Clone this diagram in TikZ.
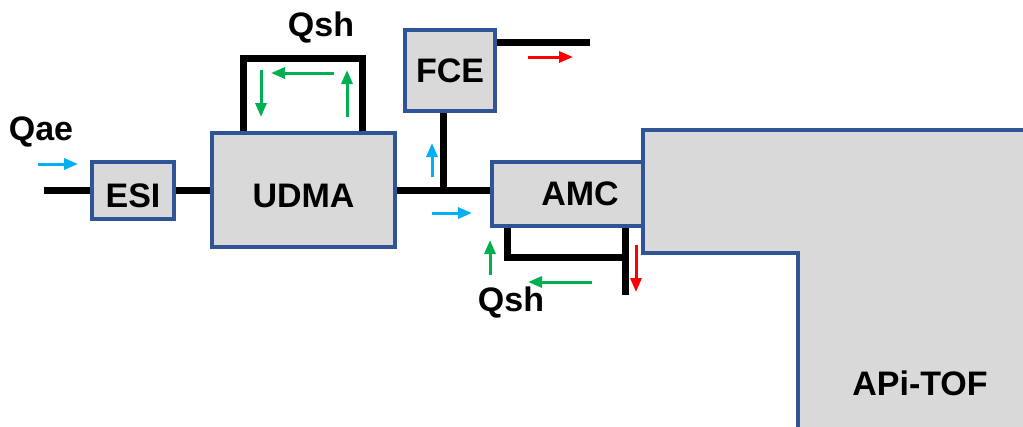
\documentclass[tikz,border=0pt]{standalone}
\usepackage{fontspec}
\setmainfont{Liberation Sans}
\usetikzlibrary{arrows.meta}
\definecolor{unitblue}{HTML}{2F5597}
\definecolor{unitgray}{HTML}{D9D9D9}
\definecolor{airblue}{HTML}{00B0F0}
\definecolor{sheathgreen}{HTML}{00B050}
\begin{document}
\begin{tikzpicture}[x=1pt, y=-1pt,
    unit/.style={draw=unitblue, fill=unitgray, line width=4pt, inner sep=0pt,
        font=\fontsize{34}{40}\selectfont\bfseries},
    lowtext/.style={text height=34pt, text depth=0pt},
    pipe/.style={line width=7pt},
    flow/.style={line width=3pt, -{Triangle[length=14pt,width=11pt]}},
    tag/.style={font=\fontsize{34}{40}\selectfont\bfseries}]
    \useasboundingbox (0,0) rectangle (1023,426);
    % Units
    \node[unit, lowtext, minimum width=82pt, minimum height=57pt] (esi) at (133,190) {ESI};
    \node[unit, lowtext, minimum width=183pt, minimum height=114pt] (udma) at (303.5,190) {UDMA};
    \node[unit, minimum width=90pt, minimum height=81pt] (fce) at (450,70.5) {FCE};
    \node[unit, minimum width=176pt, minimum height=64pt] (amc) at (580,194) {AMC};
    % APi-TOF body
    \draw[draw=unitblue, fill=unitgray, line width=4pt]
        (798,440) -- (798,253) -- (643,253) -- (643,130) -- (1040,130) -- (1040,440) -- cycle;
    \node[tag] (apitof) at (920,383) {APi-TOF};
    % Pipes
    \coordinate (inlet) at (44,190);
    \coordinate (tee) at (443,190);
    \coordinate (exhaust) at (590,42);
    \coordinate (drain) at (625,295);
    \draw[pipe] (inlet) -- (esi.west);
    \draw[pipe] (esi.east) -- (udma.west);
    \draw[pipe] (udma.east) -- (udma.east -| amc.west);
    \draw[pipe] (tee) -- (tee |- fce.south);
    \draw[pipe] (exhaust -| fce.east) -- (exhaust);
    \draw[pipe] ([xshift=-60pt]udma.north) -- ++(0,-73) -- ++(119,0) -- ([xshift=59pt]udma.north);
    \draw[pipe] ([xshift=-73pt]amc.south) -- ++(0,29) -- ++(118,0);
    \draw[pipe] ([xshift=45pt]amc.south) -- (drain);
    % Flow labels
    \node[tag] (qae) at (41,132) {Qae};
    \node[tag] (qshtop) at (321,28) {Qsh};
    \node[tag] (qshbot) at (511,303) {Qsh};
    % Flow arrows
    \foreach \x/\y/\u/\v in {38/164/78/164, 432/177/432/143, 432/213/472/213} {
        \draw[flow, airblue] (\x,\y) -- (\u,\v);
    }
    \foreach \x/\y/\u/\v in {261/70/261/117, 334/73/271/73, 347/117/347/70, 490/275/490/240, 592/282/528/282} {
        \draw[flow, sheathgreen] (\x,\y) -- (\u,\v);
    }
    \foreach \x/\y/\u/\v in {528/57/573/57, 636/245/636/292} {
        \draw[flow, red] (\x,\y) -- (\u,\v);
    }
\end{tikzpicture}
\end{document}
